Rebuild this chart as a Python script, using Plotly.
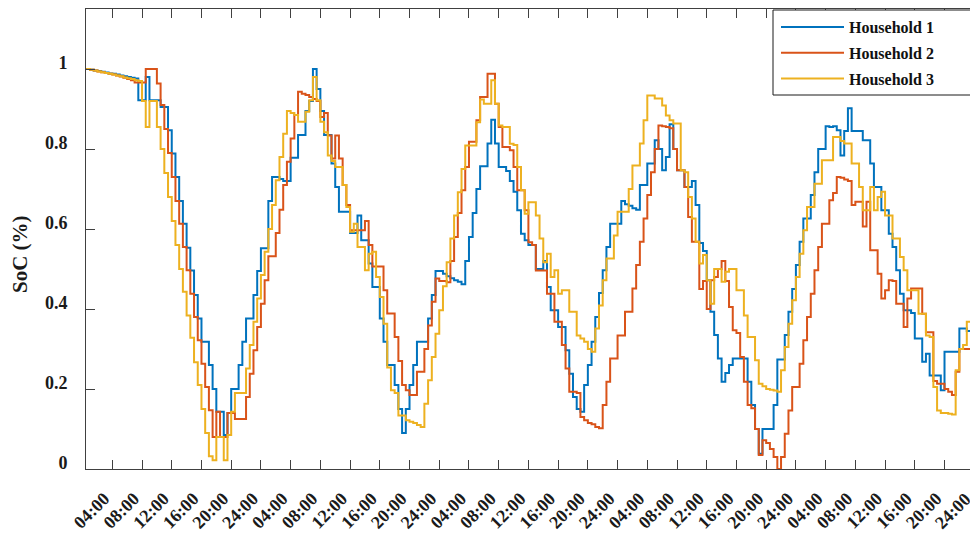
import plotly.graph_objects as go

# State of charge per household, half-hour steps over five days
household_1 = [
    1.0, 0.998, 0.996, 0.995, 0.993, 0.991, 0.989, 0.988, 0.986, 0.984, 0.982, 0.98, 0.978,
    0.976, 0.922, 0.922, 0.98, 0.922, 0.922, 0.922, 0.905, 0.905, 0.847, 0.789, 0.73,
    0.67, 0.613, 0.553, 0.496, 0.435, 0.376, 0.318, 0.318, 0.26, 0.2, 0.143, 0.143,
    0.085, 0.14, 0.2, 0.2, 0.26, 0.318, 0.376, 0.376, 0.435, 0.495, 0.552,
    0.552, 0.67, 0.73, 0.73, 0.725, 0.72, 0.72, 0.778, 0.778, 0.835, 0.835, 0.895,
    0.92, 1.0, 0.95, 0.895, 0.835, 0.835, 0.764, 0.705, 0.643, 0.643, 0.643, 0.59,
    0.59, 0.634, 0.572, 0.572, 0.514, 0.455, 0.455, 0.376, 0.318, 0.26, 0.26, 0.21,
    0.15, 0.09, 0.15, 0.21, 0.26, 0.318, 0.318, 0.318, 0.376, 0.435, 0.495, 0.495,
    0.488, 0.482, 0.477, 0.472, 0.468, 0.462, 0.52, 0.58, 0.64, 0.70, 0.757, 0.757,
    0.814, 0.873, 0.814, 0.755, 0.755, 0.745, 0.72, 0.693, 0.647, 0.588, 0.572, 0.56,
    0.56, 0.5, 0.5, 0.52, 0.455, 0.397, 0.397, 0.355, 0.355, 0.297, 0.238, 0.18,
    0.15, 0.143, 0.21, 0.26, 0.318, 0.38, 0.44, 0.497, 0.555, 0.613, 0.613, 0.613,
    0.67, 0.662, 0.658, 0.652, 0.648, 0.71, 0.71, 0.764, 0.764, 0.822, 0.8, 0.747,
    0.78, 0.862, 0.8, 0.747, 0.747, 0.705, 0.705, 0.72, 0.66, 0.565, 0.545, 0.472,
    0.393, 0.335, 0.276, 0.218, 0.24, 0.26, 0.276, 0.276, 0.276, 0.276, 0.218, 0.16,
    0.1, 0.038, 0.1, 0.1, 0.1, 0.16, 0.274, 0.274, 0.335, 0.393, 0.45, 0.51,
    0.568, 0.626, 0.626, 0.685, 0.742, 0.8, 0.8, 0.857, 0.855, 0.857, 0.847, 0.784,
    0.845, 0.902, 0.845, 0.845, 0.845, 0.822, 0.822, 0.764, 0.705, 0.705, 0.647, 0.647,
    0.588, 0.555, 0.497, 0.438, 0.397, 0.397, 0.39, 0.326, 0.326, 0.268, 0.288, 0.234,
    0.234, 0.234, 0.197, 0.293, 0.293, 0.293, 0.293, 0.351, 0.351, 0.345, 0.345, 0.345,
]

household_2 = [
    1.0, 0.998, 0.996, 0.994, 0.992, 0.99, 0.988, 0.986, 0.984, 0.981, 0.978, 0.975, 0.972,
    0.966, 0.966, 0.966, 1.0, 1.0, 1.0, 0.964, 0.91, 0.85, 0.79, 0.73,
    0.67, 0.613, 0.555, 0.497, 0.438, 0.38, 0.322, 0.263, 0.205, 0.147, 0.08, 0.143,
    0.08, 0.08, 0.14, 0.14, 0.125, 0.125, 0.125, 0.18, 0.238, 0.297, 0.355, 0.413,
    0.472, 0.532, 0.532, 0.59, 0.648, 0.71, 0.768, 0.826, 0.885, 0.943, 0.938, 0.935,
    0.93, 0.925, 0.92, 0.88, 0.89, 0.834, 0.776, 0.834, 0.776, 0.71, 0.66, 0.597,
    0.597, 0.597, 0.597, 0.62, 0.56, 0.506, 0.506, 0.506, 0.447, 0.389, 0.389, 0.33,
    0.27, 0.21, 0.197, 0.185, 0.185, 0.243, 0.243, 0.3, 0.359, 0.418, 0.476, 0.47,
    0.47, 0.467, 0.52, 0.58, 0.64, 0.697, 0.755, 0.818, 0.818, 0.872, 0.93, 0.93,
    0.988, 0.988, 0.913, 0.855, 0.805, 0.805, 0.797, 0.755, 0.697, 0.697, 0.647, 0.567,
    0.56, 0.496, 0.496, 0.496, 0.438, 0.438, 0.368, 0.368, 0.31, 0.251, 0.193, 0.193,
    0.19, 0.13, 0.122, 0.115, 0.112, 0.105, 0.102, 0.16, 0.218, 0.276, 0.276, 0.334,
    0.334, 0.393, 0.393, 0.451, 0.51, 0.568, 0.626, 0.685, 0.742, 0.8, 0.859, 0.857,
    0.855, 0.852, 0.8, 0.747, 0.747, 0.705, 0.63, 0.568, 0.568, 0.45, 0.47, 0.4,
    0.472, 0.48, 0.5, 0.52, 0.47, 0.405, 0.347, 0.34, 0.28, 0.218, 0.16, 0.152,
    0.1, 0.035, 0.072, 0.065, 0.05, 0.03, 0.0, 0.03, 0.088, 0.146, 0.205, 0.205,
    0.263, 0.322, 0.38, 0.438, 0.497, 0.555, 0.613, 0.613, 0.672, 0.69, 0.73, 0.728,
    0.724, 0.72, 0.66, 0.668, 0.668, 0.606, 0.668, 0.547, 0.547, 0.488, 0.426, 0.447,
    0.472, 0.47, 0.413, 0.413, 0.355, 0.426, 0.451, 0.451, 0.451, 0.388, 0.342, 0.342,
    0.22, 0.213, 0.213, 0.2, 0.193, 0.185, 0.243, 0.3, 0.3, 0.3, 0.3, 0.3,
]

household_3 = [
    1.0, 0.998, 0.996, 0.994, 0.992, 0.99, 0.988, 0.986, 0.984, 0.982, 0.979, 0.977, 0.975,
    0.972, 0.97, 0.92, 0.855, 0.92, 0.92, 0.855, 0.8, 0.74, 0.68, 0.62,
    0.56, 0.5, 0.443, 0.384, 0.328, 0.267, 0.21, 0.15, 0.09, 0.032, 0.022, 0.08,
    0.08, 0.022, 0.085, 0.143, 0.19, 0.19, 0.19, 0.251, 0.31, 0.368, 0.426, 0.485,
    0.543, 0.6, 0.66, 0.722, 0.78, 0.838, 0.895, 0.89, 0.885, 0.868, 0.868, 0.893,
    0.922, 0.98, 0.922, 0.868, 0.842, 0.784, 0.77, 0.755, 0.755, 0.71, 0.655, 0.593,
    0.613, 0.555, 0.555, 0.497, 0.538, 0.543, 0.48, 0.43, 0.363, 0.254, 0.197, 0.19,
    0.134, 0.134, 0.122, 0.118, 0.115, 0.11, 0.105, 0.163, 0.222, 0.28, 0.338, 0.397,
    0.457, 0.517, 0.576, 0.634, 0.692, 0.75, 0.809, 0.809, 0.809, 0.867, 0.924, 0.913,
    0.913, 0.972, 0.913, 0.859, 0.855, 0.855, 0.813, 0.81, 0.755, 0.697, 0.638, 0.667,
    0.667, 0.634, 0.576, 0.517, 0.538, 0.48, 0.497, 0.438, 0.447, 0.447, 0.393, 0.393,
    0.334, 0.326, 0.318, 0.3, 0.293, 0.351, 0.409, 0.472, 0.526, 0.526, 0.584, 0.643,
    0.643, 0.643, 0.7, 0.759, 0.759, 0.814, 0.872, 0.934, 0.934, 0.926, 0.926, 0.909,
    0.884, 0.872, 0.864, 0.864, 0.747, 0.742, 0.68, 0.626, 0.568, 0.514, 0.535, 0.472,
    0.413, 0.5, 0.5, 0.468, 0.493, 0.5, 0.5, 0.447, 0.447, 0.384, 0.33, 0.33,
    0.272, 0.213, 0.207, 0.2, 0.198, 0.196, 0.193, 0.247, 0.305, 0.363, 0.422, 0.48,
    0.538, 0.597, 0.655, 0.655, 0.713, 0.713, 0.772, 0.772, 0.772, 0.83, 0.83, 0.82,
    0.814, 0.814, 0.764, 0.764, 0.705, 0.647, 0.647, 0.705, 0.647, 0.68, 0.693, 0.634,
    0.634, 0.576, 0.576, 0.53, 0.497, 0.447, 0.447, 0.447, 0.388, 0.388, 0.334, 0.33,
    0.205, 0.146, 0.14, 0.14, 0.138, 0.136, 0.247, 0.3, 0.31, 0.368, 0.368, 0.368,
]

series_names = ["Household 1", "Household 2", "Household 3"]
series_colors = ["#0072BD", "#D95319", "#EDB120"]

# Time of each sample in hours (first sample ends the first half hour)
hours = [0.5 * (k + 1) for k in range(len(household_1))]

# Tick every four hours, labelled with the clock time of day
tick_hours = list(range(4, 121, 4))
tick_labels = ["%02d:00" % (24 if h % 24 == 0 else h % 24) for h in tick_hours]

X_RANGE = [0.46, 119.43]
FONT = "Liberation Serif"
AXIS_GREY = "#404040"
TEXT = "#1a1a1a"
TICK_FONT = dict(family=FONT, size=18, color=TEXT, weight="bold")
X_LABEL_DROP = 11

# Plot area in pixels: left 86, top 9, width 884, height 460
PLOT_W, PLOT_H = 884, 460

fig = go.Figure()
for name, color, values in zip(series_names, series_colors,
                               [household_1, household_2, household_3]):
    fig.add_trace(go.Scatter(
        x=hours, y=values, name=name, legendgroup=name, mode="lines",
        line=dict(color=color, width=2, shape="hv"),
    ))

# The closing midnight tick sits just past the visible right edge, so its
# label is placed by hand where the axis would have drawn it
last_tick = tick_hours[-1]
if last_tick > X_RANGE[1]:
    fig.add_annotation(
        x=(last_tick - X_RANGE[0]) / (X_RANGE[1] - X_RANGE[0]), xref="paper",
        y=0, yref="paper", xanchor="right", yanchor="top",
        xshift=2, yshift=-(X_LABEL_DROP + 8),
        text=tick_labels[-1], textangle=-45, showarrow=False,
        font=TICK_FONT, borderpad=0,
    )

fig.add_annotation(
    x=-66 / PLOT_W, xref="paper", y=(460 - 245) / PLOT_H, yref="paper",
    xanchor="center", yanchor="middle",
    text="SoC (%)", textangle=-90, showarrow=False,
    font=dict(family=FONT, size=21, color=TEXT, weight="bold"),
)

# Legend frame runs on past the right edge of the figure
legend_left = (773 - 86) / PLOT_W
legend_top = 1 - 1 / PLOT_H
legend_bottom = 1 - 86 / PLOT_H
fig.add_shape(
    type="rect", xref="paper", yref="paper", layer="above",
    x0=legend_left, x1=1.05, y0=legend_bottom, y1=legend_top,
    fillcolor="white", line=dict(color=TEXT, width=1),
)

fig.update_layout(
    width=970, height=533,
    margin=dict(l=86, r=0, t=9, b=64, autoexpand=False),
    paper_bgcolor="white", plot_bgcolor="white",
    font=dict(family=FONT, color=TEXT),
    showlegend=True,
    legend=dict(
        x=legend_left + 3 / PLOT_W, y=legend_top, xanchor="left", yanchor="top",
        bgcolor="rgba(0,0,0,0)", borderwidth=0,
        font=dict(family=FONT, size=16, color="#111111", weight="bold"),
        itemwidth=63, tracegroupgap=2,
    ),
    xaxis=dict(
        range=X_RANGE, automargin=False,
        tickmode="array", tickvals=tick_hours, ticktext=tick_labels,
        tickangle=-45, tickfont=TICK_FONT,
        ticklabelstandoff=X_LABEL_DROP, ticklabelshift=-8,
        ticks="inside", ticklen=9, tickwidth=1, tickcolor=AXIS_GREY,
        showline=True, linecolor=AXIS_GREY, linewidth=1, mirror="ticks",
        showgrid=False, zeroline=False,
    ),
    yaxis=dict(
        range=[0, 1.15], automargin=False,
        tickmode="array", tickvals=[0, 0.2, 0.4, 0.6, 0.8, 1.0],
        ticktext=["0", "0.2", "0.4", "0.6", "0.8", "1"],
        tickfont=TICK_FONT,
        ticklabelstandoff=14, ticklabelshift=-6,
        ticks="inside", ticklen=9, tickwidth=1, tickcolor=AXIS_GREY,
        showline=True, linecolor=AXIS_GREY, linewidth=1,
        showgrid=False, zeroline=False,
    ),
)

fig.write_html("out.html")
